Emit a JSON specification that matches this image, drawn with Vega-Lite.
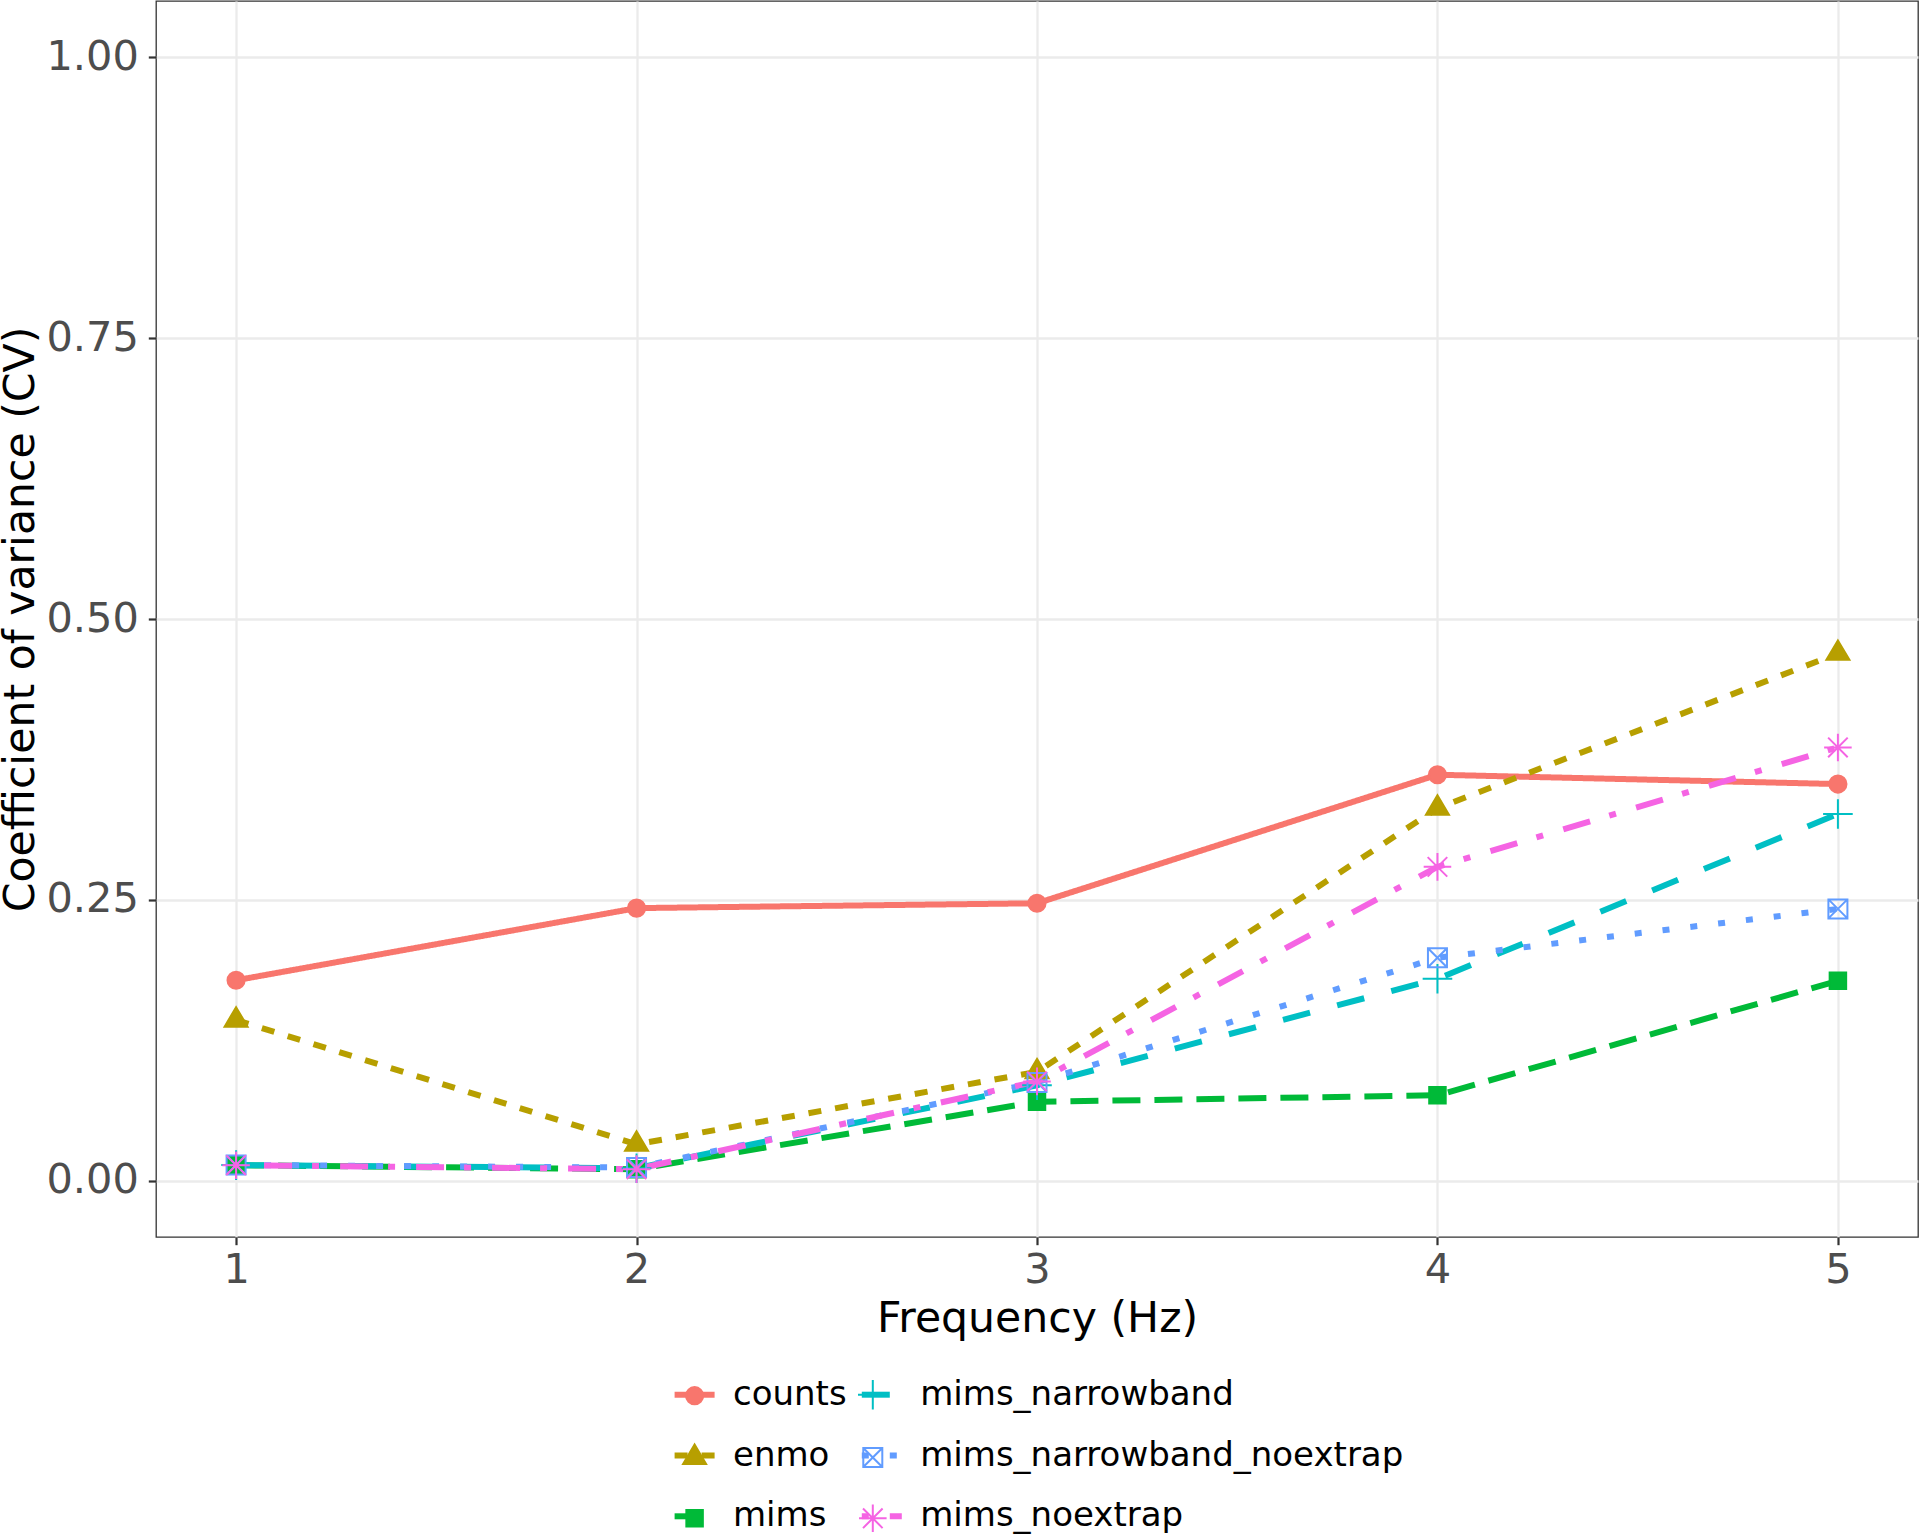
{
  "$schema": "https://vega.github.io/schema/vega-lite/v6.json",
  "width": 1762,
  "height": 1236,
  "autosize": {"type": "none"},
  "padding": {"left": 156, "top": 1, "right": 2, "bottom": 299},
  "background": "white",
  "config": {
    "font": "DejaVu Sans",
    "view": {"stroke": "#333333", "strokeWidth": 1.3},
    "axis": {
      "labelFont": "DejaVu Sans",
      "titleFont": "DejaVu Sans",
      "labelFontSize": 41.5,
      "labelColor": "#4D4D4D",
      "titleFontSize": 42.6,
      "titleColor": "black",
      "titleFontWeight": "normal",
      "domain": false,
      "tickColor": "#333333",
      "tickWidth": 2.2,
      "tickSize": 7.7,
      "gridColor": "#EBEBEB",
      "gridWidth": 2.3,
      "labelFlush": false,
      "labelOverlap": false
    },
    "legend": {
      "labelFont": "DejaVu Sans",
      "labelFontSize": 34,
      "labelColor": "black",
      "labelLimit": 1000
    }
  },
  "data": {
    "values": [
      {"hz": 1, "method": "counts", "cv": 0.1785},
      {"hz": 2, "method": "counts", "cv": 0.2427},
      {"hz": 3, "method": "counts", "cv": 0.247},
      {"hz": 4, "method": "counts", "cv": 0.3614},
      {"hz": 5, "method": "counts", "cv": 0.3531},
      {"hz": 1, "method": "enmo", "cv": 0.143},
      {"hz": 2, "method": "enmo", "cv": 0.0325},
      {"hz": 3, "method": "enmo", "cv": 0.097},
      {"hz": 4, "method": "enmo", "cv": 0.3316},
      {"hz": 5, "method": "enmo", "cv": 0.4694},
      {"hz": 1, "method": "mims", "cv": 0.0139},
      {"hz": 2, "method": "mims", "cv": 0.0103},
      {"hz": 3, "method": "mims", "cv": 0.0703},
      {"hz": 4, "method": "mims", "cv": 0.0761},
      {"hz": 5, "method": "mims", "cv": 0.178},
      {"hz": 1, "method": "mims_narrowband", "cv": 0.014},
      {"hz": 2, "method": "mims_narrowband", "cv": 0.0112},
      {"hz": 3, "method": "mims_narrowband", "cv": 0.085},
      {"hz": 4, "method": "mims_narrowband", "cv": 0.1798},
      {"hz": 5, "method": "mims_narrowband", "cv": 0.3265},
      {"hz": 1, "method": "mims_narrowband_noextrap", "cv": 0.0141},
      {"hz": 2, "method": "mims_narrowband_noextrap", "cv": 0.0118},
      {"hz": 3, "method": "mims_narrowband_noextrap", "cv": 0.0876},
      {"hz": 4, "method": "mims_narrowband_noextrap", "cv": 0.1985},
      {"hz": 5, "method": "mims_narrowband_noextrap", "cv": 0.242},
      {"hz": 1, "method": "mims_noextrap", "cv": 0.0139},
      {"hz": 2, "method": "mims_noextrap", "cv": 0.0104},
      {"hz": 3, "method": "mims_noextrap", "cv": 0.0885},
      {"hz": 4, "method": "mims_noextrap", "cv": 0.2794},
      {"hz": 5, "method": "mims_noextrap", "cv": 0.3857}
    ]
  },
  "layer": [
    {
      "mark": {"type": "line", "strokeWidth": 6, "strokeJoin": "round"},
      "encoding": {
        "x": {
          "field": "hz",
          "type": "quantitative",
          "scale": {"domain": [0.8, 5.2], "nice": false, "zero": false},
          "axis": {
            "title": "Frequency (Hz)",
            "values": [1, 2, 3, 4, 5],
            "format": "d",
            "labelPadding": 4.5,
            "titlePadding": 7
          }
        },
        "y": {
          "field": "cv",
          "type": "quantitative",
          "scale": {"domain": [-0.05, 1.05], "nice": false, "zero": false},
          "axis": {
            "title": "Coefficient of variance (CV)",
            "values": [0, 0.25, 0.5, 0.75, 1],
            "format": ".2f",
            "labelPadding": 10,
            "titlePadding": 3.5
          }
        },
        "color": {
          "field": "method",
          "type": "nominal",
          "scale": {"range": ["#F8766D", "#B79F00", "#00BA38", "#00BFC4", "#619CFF", "#F564E3"]},
          "legend": {
            "title": null, "orient": "none", "legendX": 515.6, "legendY": 1370.7,
            "columns": 2, "symbolType": "stroke", "symbolSize": 1600, "symbolStrokeWidth": 6,
            "labelOffset": 15.4, "columnPadding": 2.2, "rowPadding": 20.8,
            "padding": 0, "offset": 0, "symbolOffset": 0, "zindex": 0
          }
        },
        "strokeDash": {
          "field": "method",
          "type": "nominal",
          "scale": {"range": [[1, 0], [13, 14], [28, 14], [28, 28], [7, 21], [7, 21, 28, 20]]},
          "legend": {
            "title": null, "orient": "none", "legendX": 515.6, "legendY": 1370.7,
            "columns": 2, "symbolType": "stroke", "symbolSize": 1600, "symbolStrokeWidth": 6,
            "labelOffset": 15.4, "columnPadding": 2.2, "rowPadding": 20.8,
            "padding": 0, "offset": 0, "symbolOffset": 0, "zindex": 0
          }
        }
      }
    },
    {
      "mark": {"type": "point", "size": 1936, "strokeWidth": 2, "opacity": 1},
      "encoding": {
        "x": {
          "field": "hz",
          "type": "quantitative",
          "axis": {
            "orient": "top", "labels": false, "ticks": false, "domain": false, "title": null,
            "values": [1.5, 2.5, 3.5, 4.5], "gridWidth": 1.2, "maxExtent": 0, "minExtent": 0
          }
        },
        "y": {
          "field": "cv",
          "type": "quantitative",
          "axis": {
            "orient": "right", "labels": false, "ticks": false, "domain": false, "title": null,
            "values": [0.125, 0.375, 0.625, 0.875], "gridWidth": 1.2, "maxExtent": 0, "minExtent": 0
          }
        },
        "shape": {
          "field": "method",
          "type": "nominal",
          "scale": {
            "domain": ["counts", "enmo", "mims", "mims_narrowband", "mims_narrowband_noextrap", "mims_noextrap"],
            "range": [
              "M-0.39,0A0.39,0.39,0,1,0,0.39,0A0.39,0.39,0,1,0,-0.39,0Z",
              "M0,-0.59L0.523,0.295L-0.523,0.295Z",
              "M-0.375,-0.375L0.375,-0.375L0.375,0.375L-0.375,0.375Z",
              "M-0.673,0L0.673,0M0,-0.673L0,0.673",
              "M-0.432,-0.432L0.432,-0.432L0.432,0.432L-0.432,0.432ZM-0.432,-0.432L0.432,0.432M-0.432,0.432L0.432,-0.432",
              "M-0.627,0L0.627,0M0,-0.627L0,0.627M-0.445,-0.445L0.445,0.445M-0.445,0.445L0.445,-0.445"
            ]
          },
          "legend": {
            "title": null, "orient": "none", "legendX": 515.6, "legendY": 1370.7,
            "columns": 2, "symbolSize": 1936, "symbolStrokeWidth": 2,
            "labelOffset": 15.4, "columnPadding": 116.2, "rowPadding": 20.8, "labelExpr": "' '",
            "padding": 0, "offset": 0, "symbolOffset": 0, "zindex": 1
          }
        },
        "fill": {
          "field": "method",
          "type": "nominal",
          "scale": {
            "domain": ["counts", "enmo", "mims", "mims_narrowband", "mims_narrowband_noextrap", "mims_noextrap"],
            "range": ["#F8766D", "#B79F00", "#00BA38", "transparent", "transparent", "transparent"]
          },
          "legend": {
            "title": null, "orient": "none", "legendX": 515.6, "legendY": 1370.7,
            "columns": 2, "symbolSize": 1936, "symbolStrokeWidth": 2,
            "labelOffset": 15.4, "columnPadding": 116.2, "rowPadding": 20.8, "labelExpr": "' '",
            "padding": 0, "offset": 0, "symbolOffset": 0, "zindex": 1
          }
        },
        "stroke": {
          "field": "method",
          "type": "nominal",
          "scale": {
            "domain": ["counts", "enmo", "mims", "mims_narrowband", "mims_narrowband_noextrap", "mims_noextrap"],
            "range": ["#F8766D", "#B79F00", "#00BA38", "#00BFC4", "#619CFF", "#F564E3"]
          },
          "legend": {
            "title": null, "orient": "none", "legendX": 515.6, "legendY": 1370.7,
            "columns": 2, "symbolSize": 1936, "symbolStrokeWidth": 2,
            "labelOffset": 15.4, "columnPadding": 116.2, "rowPadding": 20.8, "labelExpr": "' '",
            "padding": 0, "offset": 0, "symbolOffset": 0, "zindex": 1
          }
        }
      }
    }
  ],
  "resolve": {"axis": {"x": "independent", "y": "independent"}}
}
